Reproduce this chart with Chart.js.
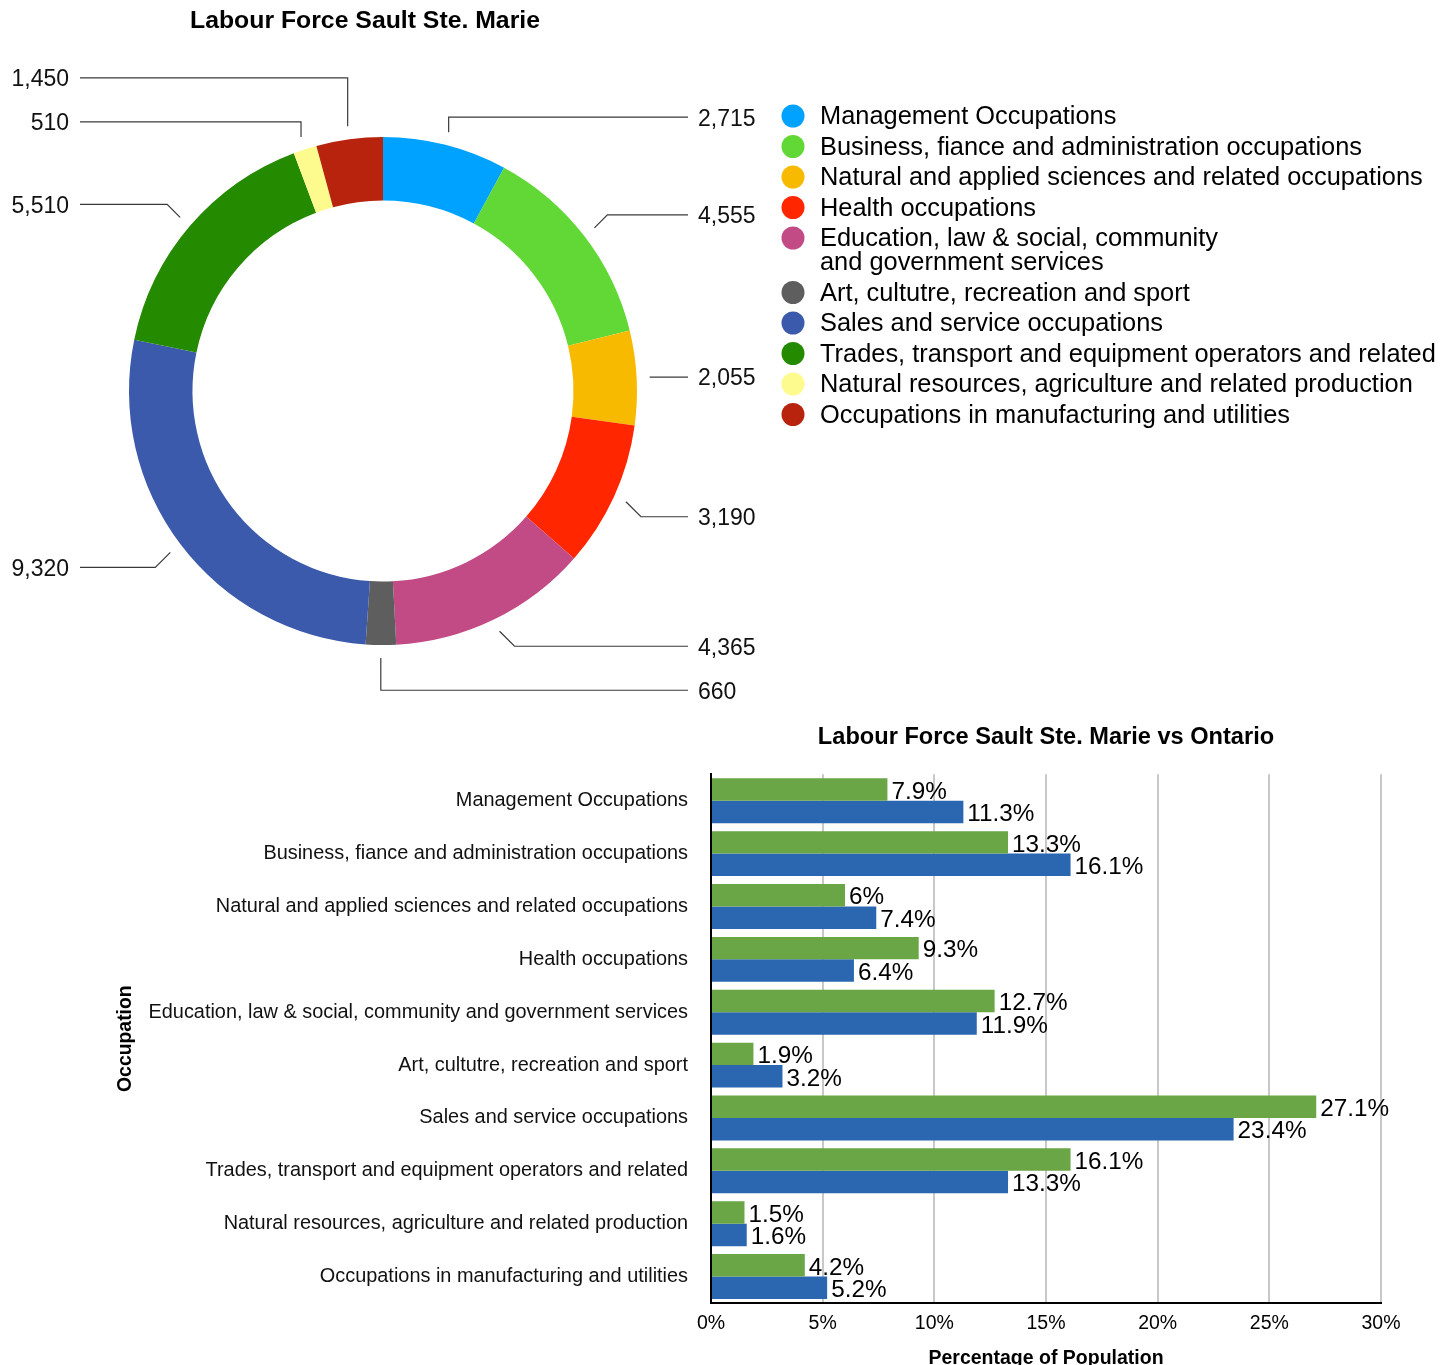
<!DOCTYPE html>
<html><head><meta charset="utf-8">
<script src="https://cdn.jsdelivr.net/npm/chart.js@4.4.1/dist/chart.umd.min.js"></script>
<style>
html,body{margin:0;padding:0;background:#fff;overflow:hidden;width:1455px;height:1365px;}
#c1{position:absolute;left:0;top:0;}
#c2{position:absolute;left:0;top:700px;}
</style></head><body>
<canvas id="c1" width="1455" height="700"></canvas>
<canvas id="c2" width="1455" height="670"></canvas>
<script>
const FONT = '"Liberation Sans", Arial, Helvetica, sans-serif';

const categories = [
  'Management Occupations',
  'Business, fiance and administration occupations',
  'Natural and applied sciences and related occupations',
  'Health occupations',
  'Education, law & social, community and government services',
  'Art, cultutre, recreation and sport',
  'Sales and service occupations',
  'Trades, transport and equipment operators and related',
  'Natural resources, agriculture and related production',
  'Occupations in manufacturing and utilities'
];
const legendLines = [
  ['Management Occupations'],
  ['Business, fiance and administration occupations'],
  ['Natural and applied sciences and related occupations'],
  ['Health occupations'],
  ['Education, law & social, community', 'and government services'],
  ['Art, cultutre, recreation and sport'],
  ['Sales and service occupations'],
  ['Trades, transport and equipment operators and related'],
  ['Natural resources, agriculture and related production'],
  ['Occupations in manufacturing and utilities']
];
const labourForceCounts = [2715, 4555, 2055, 3190, 4365, 660, 9320, 5510, 510, 1450];
const saultPct   = [7.9, 13.3, 6, 9.3, 12.7, 1.9, 27.1, 16.1, 1.5, 4.2];
const ontarioPct = [11.3, 16.1, 7.4, 6.4, 11.9, 3.2, 23.4, 13.3, 1.6, 5.2];
const xTickStep = 5;
const xMax = 30;

const sliceColors = ['#00a2ff', '#61d836', '#f8ba00', '#ff2600', '#c24b86',
                     '#5e5e5e', '#3c5aab', '#248a00', '#fdfb8d', '#b8230e'];
const saultColor = '#6aa646';
const ontarioColor = '#2a67b0';

const donutExtras = {
  id: 'donutExtras',
  afterDraw(chart) {
    const ctx = chart.ctx;
    const arcs = chart.getDatasetMeta(0).data;
    const cx = arcs[0].x, cy = arcs[0].y, R = arcs[0].outerRadius;
    ctx.save();
    // title
    ctx.fillStyle = '#000';
    ctx.font = 'bold 24.8px ' + FONT;
    ctx.textAlign = 'center';
    ctx.textBaseline = 'middle';
    ctx.fillText('Labour Force Sault Ste. Marie', 365, 21);

    // callouts
    const items = arcs.map((arc, i) => {
      const mid = (arc.startAngle + arc.endAngle) / 2;
      const sx = cx + (R + 13) * Math.cos(mid);
      const sy = cy + (R + 13) * Math.sin(mid);
      const deg = ((mid * 180 / Math.PI) + 90 + 720) % 360;
      const q = Math.round(deg / 45) * 45;
      const qr = (q - 90) * Math.PI / 180;
      const dxu = Math.round(Math.cos(qr)), dyu = Math.round(Math.sin(qr));
      const L = (dxu !== 0 && dyu !== 0) ? 14 : 16;
      return { i, sx, sy, deg, dxu, dyu, L, right: deg < 185, y: sy + dyu * L };
    });
    const rightItems = items.filter(d => d.right).sort((a, b) => a.deg - b.deg);
    const leftItems = items.filter(d => !d.right).sort((a, b) => a.deg - b.deg);
    const gap = 44;
    for (let k = 1; k < rightItems.length; k++) {
      if (rightItems[k].y < rightItems[k - 1].y + gap) rightItems[k].y = rightItems[k - 1].y + gap;
    }
    for (let k = 1; k < leftItems.length; k++) {
      if (leftItems[k].y > leftItems[k - 1].y - gap) leftItems[k].y = leftItems[k - 1].y - gap;
    }
    ctx.strokeStyle = '#3a3a3a';
    ctx.lineWidth = 1.2;
    ctx.font = '23px ' + FONT;
    ctx.textBaseline = 'middle';
    items.forEach(d => {
      const horiz = d.dyu === 0;
      let ex, ey = horiz ? d.sy : d.y + 1;
      if (d.dxu !== 0 && d.dyu !== 0) ex = d.sx + d.dxu * Math.abs(ey - d.sy);
      else if (d.dxu === 0) ex = d.sx;
      else ex = d.sx + d.dxu * d.L;
      const endX = d.right ? cx + 305 : cx - 303;
      ctx.beginPath();
      ctx.moveTo(d.sx, d.sy);
      ctx.lineTo(ex, ey);
      ctx.lineTo(endX, ey);
      ctx.stroke();
      ctx.fillStyle = '#111';
      ctx.textAlign = d.right ? 'left' : 'right';
      ctx.fillText(labourForceCounts[d.i].toLocaleString('en-US'), d.right ? endX + 10 : endX - 11, ey + 2);
    });

    // legend
    ctx.font = '25.4px ' + FONT;
    ctx.textAlign = 'left';
    let y = 116;
    legendLines.forEach((lines, i) => {
      ctx.fillStyle = sliceColors[i];
      ctx.beginPath();
      ctx.arc(793, y, 11.5, 0, Math.PI * 2);
      ctx.fill();
      ctx.fillStyle = '#000';
      lines.forEach((t, k) => ctx.fillText(t, 820, y + 1 + k * 24));
      y += 30.5 + (lines.length - 1) * 24;
    });
    ctx.restore();
  }
};

new Chart(document.getElementById('c1'), {
  type: 'doughnut',
  data: {
    labels: categories,
    datasets: [{ data: labourForceCounts, backgroundColor: sliceColors, borderWidth: 0, hoverOffset: 0 }]
  },
  options: {
    responsive: false,
    animation: false,
    events: [],
    cutout: '75%',
    layout: { padding: { left: 129, top: 137, right: 818, bottom: 55 } },
    plugins: { legend: { display: false }, tooltip: { enabled: false }, title: { display: false } }
  },
  plugins: [donutExtras]
});

const barLabels = {
  id: 'barLabels',
  afterDatasetsDraw(chart) {
    const ctx = chart.ctx;
    ctx.save();
    ctx.font = '24.3px ' + FONT;
    ctx.fillStyle = '#000';
    ctx.textAlign = 'left';
    ctx.textBaseline = 'middle';
    chart.data.datasets.forEach((ds, di) => {
      chart.getDatasetMeta(di).data.forEach((bar, i) => {
        ctx.fillText(ds.data[i] + '%', bar.x + 4, bar.y + 2.5);
      });
    });
    ctx.restore();
  }
};

new Chart(document.getElementById('c2'), {
  type: 'bar',
  data: {
    labels: categories,
    datasets: [
      { label: 'Sault Ste. Marie', data: saultPct, backgroundColor: saultColor, categoryPercentage: 0.85, barPercentage: 1 },
      { label: 'Ontario', data: ontarioPct, backgroundColor: ontarioColor, categoryPercentage: 0.85, barPercentage: 1 }
    ]
  },
  options: {
    indexAxis: 'y',
    responsive: false,
    animation: false,
    events: [],
    layout: { padding: { left: 110, right: 74, top: 0, bottom: 0 } },
    plugins: {
      legend: { display: false },
      tooltip: { enabled: false },
      title: {
        display: true, text: 'Labour Force Sault Ste. Marie vs Ontario', fullSize: false,
        color: '#000', font: { family: FONT, size: 23.6, weight: 'bold' }, padding: { top: 23, bottom: 23 }
      }
    },
    scales: {
      x: {
        min: 0, max: xMax,
        ticks: { stepSize: xTickStep, callback: v => v + '%', color: '#000', font: { family: FONT, size: 19.5 }, padding: 9 },
        grid: { color: '#c8c8c8', lineWidth: 2, drawTicks: false },
        border: { display: true, color: '#000', width: 2 },
        title: { display: true, text: 'Percentage of Population', color: '#000', font: { family: FONT, size: 19.5, weight: 'bold' }, padding: { top: 4, bottom: 0 } },
        afterFit: s => { s.height = 67; }
      },
      y: {
        ticks: { color: '#111', font: { family: FONT, size: 19.9 }, padding: 23 },
        grid: { display: false, drawTicks: false },
        border: { display: true, color: '#000', width: 2 },
        title: { display: true, text: 'Occupation', color: '#000', font: { family: FONT, size: 19.4, weight: 'bold' }, padding: { top: 4, bottom: 4 } },
        afterFit: s => { s.width = 601; }
      }
    }
  },
  plugins: [barLabels]
});
</script>
</body></html>
